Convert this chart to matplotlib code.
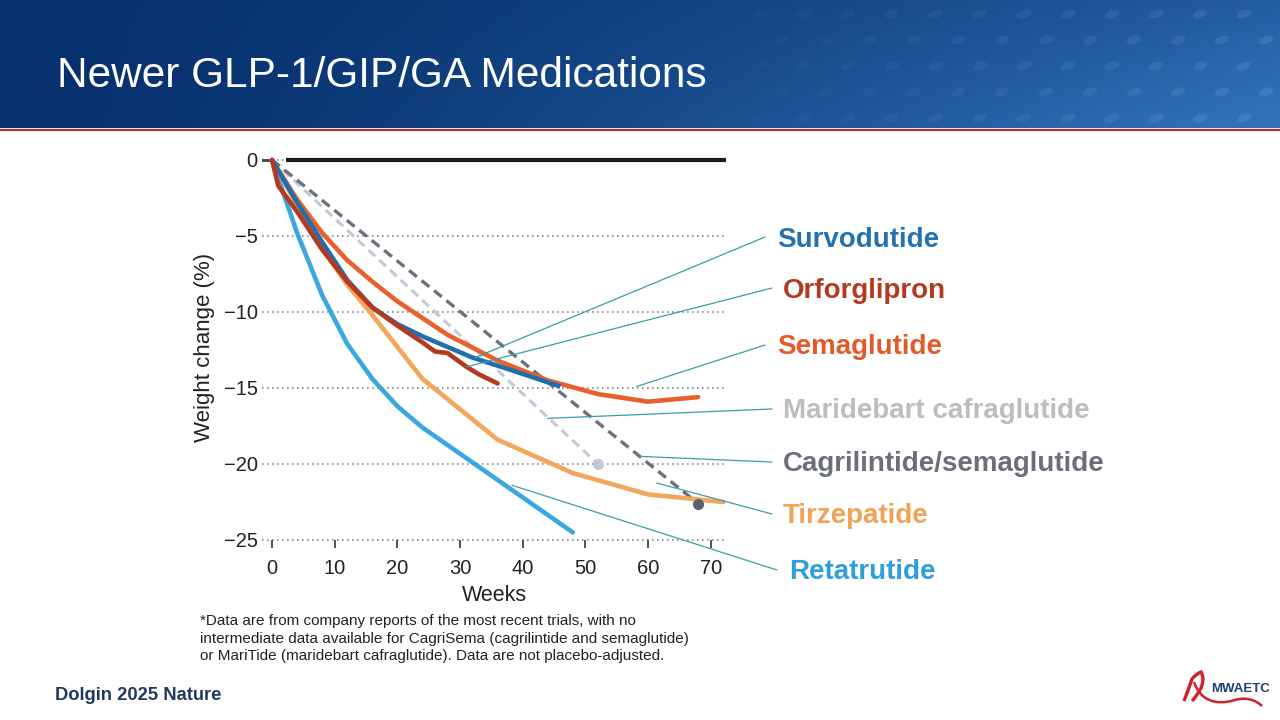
import numpy as np
import matplotlib
matplotlib.use("Agg")
import matplotlib.pyplot as plt
from matplotlib.path import Path
from matplotlib.patches import PathPatch, Ellipse

plt.rcParams["font.family"] = ["Liberation Sans", "DejaVu Sans"]

# 数据
reta_weeks = [0, 4, 8, 12, 16, 20, 24, 32, 40, 48]
reta_vals = [0, -4.8, -8.9, -12.1, -14.4, -16.2, -17.6, -19.9, -22.2, -24.5]

tirz_weeks = [0, 4, 8, 12, 16, 20, 24, 36, 48, 60, 72]
tirz_vals = [0, -3.0, -5.8, -8.2, -10.2, -12.3, -14.4, -18.4, -20.6, -22.0, -22.5]

sema_weeks = [0, 4, 8, 12, 16, 20, 28, 36, 44, 52, 60, 68]
sema_vals = [0, -2.6, -4.8, -6.6, -8.0, -9.3, -11.5, -13.2, -14.5, -15.4, -15.9, -15.6]

surv_weeks = [0, 4, 8, 12, 16, 20, 24, 28, 32, 38, 46]
surv_vals = [0, -2.8, -5.4, -7.9, -9.7, -10.8, -11.6, -12.3, -13.0, -13.8, -14.9]

orfo_weeks = [0, 1, 4, 8, 12, 16, 20, 24, 26, 28, 31, 33, 36]
orfo_vals = [0, -1.7, -3.4, -5.9, -8.0, -9.7, -10.9, -12.0, -12.6, -12.7, -13.6, -14.1, -14.7]

mari_weeks = [0, 52]
mari_vals = [0, -20.0]

cagri_weeks = [0, 68]
cagri_vals = [0, -22.6]

x_ticks = [0, 10, 20, 30, 40, 50, 60, 70]
y_ticks = [0, -5, -10, -15, -20, -25]

# 标签: (名称, 颜色, 引线锚点(周, %), 引线终点像素, 文本像素)
labels = [
    ("Survodutide", "#2272b2", (32.4, -13.0), (765, 237), (777, 240)),
    ("Orforglipron", "#b33a1e", (31.1, -13.6), (772, 288), (783, 291)),
    ("Semaglutide", "#e05a2a", (58.2, -14.9), (765, 345), (777, 347)),
    ("Maridebart cafraglutide", "#bdbdbd", (44.0, -17.0), (772, 409), (783, 411)),
    ("Cagrilintide/semaglutide", "#6b6f7a", (58.7, -19.5), (772, 462), (783, 464)),
    ("Tirzepatide", "#f0a354", (61.4, -21.25), (772, 514), (783, 516)),
    ("Retatrutide", "#2d9fda", (38.3, -21.4), (777, 570), (789, 572)),
]

W, H = 1280, 720
fig = plt.figure(figsize=(12.8, 7.2), dpi=100)
fig.patch.set_facecolor("white")

# ---- 页眉渐变 ----
hdr = fig.add_axes([0, 1 - 128 / H, 1, 128 / H])
gx = np.linspace(0, 1, 400)[None, :]
gy = np.linspace(0, 1, 60)[:, None]
left = np.array([6, 48, 108]) / 255
right = np.array([48, 112, 182]) / 255
t = np.clip(gx ** 1.4 * (0.7 + 0.4 * gy), 0, 1)
img = left[None, None, :] * (1 - t[..., None]) + right[None, None, :] * t[..., None]
hdr.imshow(img, aspect="auto", extent=[0, W, 128, 0])
hdr.set_xlim(0, W)
hdr.set_ylim(128, 0)
hdr.set_axis_off()
# 装饰点阵
for r, yy in enumerate(range(14, 128, 26)):
    for xx in range(760 + (r % 2) * 22, W + 20, 44):
        a = 0.02 + 0.07 * (xx - 760) / 520
        hdr.add_patch(Ellipse((xx, yy), 15, 8, angle=-20, color="white",
                              alpha=a, lw=0))
hdr.text(57, 76, "Newer GLP-1/GIP/GA Medications", color="white",
         fontsize=30.5, va="center", ha="left")

# 红线
deco = fig.add_axes([0, 0, 1, 1], zorder=-1)
deco.set_xlim(0, W)
deco.set_ylim(H, 0)
deco.set_axis_off()
deco.plot([0, W], [129.5, 129.5], color="#b0323a", lw=1.6)

# ---- 图表 ----
ax = fig.add_axes([262 / W, (H - 547.6) / H, 465 / W, 399.8 / H])
ax.set_xlim(-1.6, 72.6)
ax.set_ylim(-25.5, 0.8)
for s in ax.spines.values():
    s.set_visible(False)

for yv in y_ticks:
    ax.axhline(yv, color="#a0a0a0", lw=1.5, ls=(0, (0.8, 1.6)), zorder=1)
ax.plot([-1.6, -0.2], [0, 0], color="#444444", lw=2, zorder=2)
ax.plot([2.2, 72.5], [0, 0], color="#1a1a1a", lw=3, zorder=2, solid_capstyle="butt")

ax.plot(mari_weeks, mari_vals, color="#c5c8d6", lw=2.2, ls=(0, (3, 1.8)), zorder=3)
ax.plot(mari_weeks[-1:], mari_vals[-1:], "o", color="#c5c8d6", ms=7, zorder=3)
ax.plot(cagri_weeks, cagri_vals, color="#6d717d", lw=2.4, ls=(0, (3, 1.8)), zorder=3)
ax.plot(cagri_weeks[-1:], cagri_vals[-1:], "o", color="#5c606e", ms=7, zorder=6)

ax.plot(reta_weeks, reta_vals, color="#3aa8e0", lw=3.3, zorder=4, solid_capstyle="round")
ax.plot(tirz_weeks, tirz_vals, color="#f4a65a", lw=3.3, zorder=4, solid_capstyle="round")
ax.plot(sema_weeks, sema_vals, color="#e8602c", lw=3.3, zorder=4, solid_capstyle="round")
ax.plot(surv_weeks, surv_vals, color="#1f6fb0", lw=3.3, zorder=5, solid_capstyle="butt")
ax.plot(orfo_weeks, orfo_vals, color="#b5391f", lw=3.3, zorder=5, solid_capstyle="round")

ax.set_xticks(x_ticks)
ax.set_yticks(y_ticks)
ax.set_yticklabels([f"{v}".replace("-", "\u2212") for v in y_ticks])
ax.tick_params(axis="x", direction="in", length=6, width=1.2, color="#333333",
               labelsize=14.5, labelcolor="#222222", pad=8)
ax.tick_params(axis="y", length=0, labelsize=14.5, labelcolor="#222222", pad=3)
ax.set_xlabel("Weeks", fontsize=15.5, color="#222222", labelpad=5)
ax.set_ylabel("Weight change (%)", fontsize=16, color="#222222", labelpad=6)

# 引线与标签
for name, col, anchor, end_px, txt_px in labels:
    ax.annotate("", xy=anchor, xycoords="data",
                xytext=(end_px[0], H - end_px[1]), textcoords="figure pixels",
                arrowprops=dict(arrowstyle="-", color="#3c9da3", lw=0.9,
                                shrinkA=0, shrinkB=0),
                annotation_clip=False, zorder=7)
    fig.text(txt_px[0] / W, 1 - txt_px[1] / H, name, color=col, fontsize=20,
             fontweight="bold", ha="left", va="center")

# 脚注
foot = ["*Data are from company reports of the most recent trials, with no",
        "intermediate data available for CagriSema (cagrilintide and semaglutide)",
        "or MariTide (maridebart cafraglutide). Data are not placebo-adjusted."]
for i, line in enumerate(foot):
    fig.text(200 / W, 1 - (621 + 17.5 * i) / H, line, fontsize=11,
             color="#222222", ha="left", va="center")

fig.text(55 / W, 1 - 695 / H, "Dolgin 2025 Nature", fontsize=13.2,
         fontweight="bold", color="#1f3a60", ha="left", va="center")

# 标志 (红丝带)
loop = [(1184, 701), (1189, 688), (1192, 679), (1196, 674),
        (1201, 672), (1205, 678), (1201, 688),
        (1197, 696), (1192, 701)]
loop_codes = [Path.MOVETO, Path.CURVE3, Path.CURVE3, Path.CURVE3, Path.CURVE3,
              Path.CURVE3, Path.CURVE3, Path.CURVE3, Path.CURVE3]
tail = [(1194, 682), (1200, 700), (1215, 706), (1235, 700),
        (1248, 696), (1258, 702), (1262, 706)]
tail_codes = [Path.MOVETO, Path.CURVE4, Path.CURVE4, Path.CURVE4,
              Path.CURVE4, Path.CURVE4, Path.CURVE4]
deco.add_patch(PathPatch(Path(loop, loop_codes), fill=False, edgecolor="#d0202a", lw=2.4))
deco.add_patch(PathPatch(Path(tail, tail_codes), fill=False, edgecolor="#d0202a", lw=1.8))
fig.text(1211 / W, 1 - 689 / H, "MWAETC", fontsize=9.5, fontweight="bold",
         color="#1f3f7a", ha="left", va="center")

fig.savefig("out.png", dpi=100)
